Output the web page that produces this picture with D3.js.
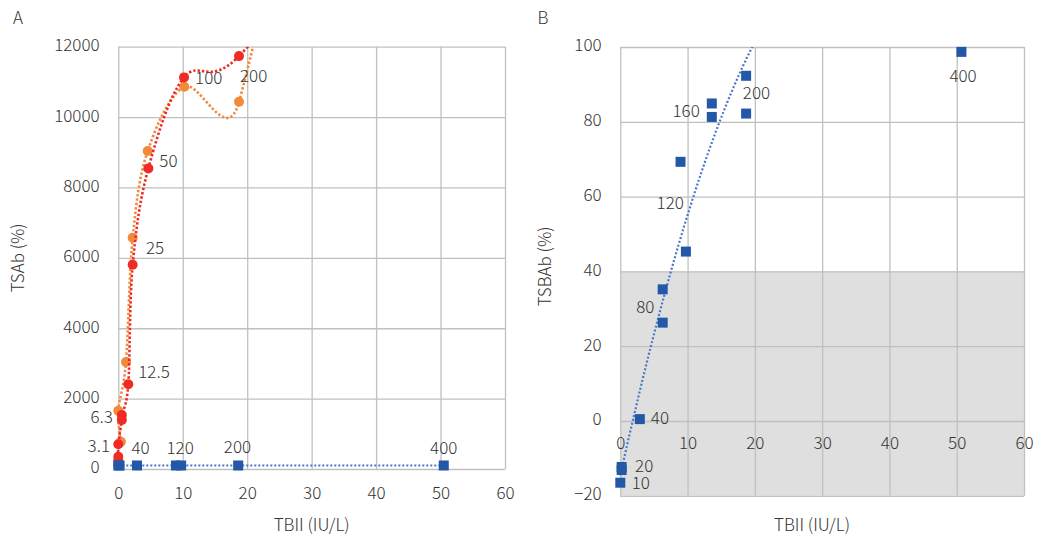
<!DOCTYPE html>
<html><head><meta charset="utf-8">
<script src="https://cdn.jsdelivr.net/npm/d3@7"></script>
<style>
body{margin:0;background:#fff}
text{font-family:"Noto Sans CJK JP","Noto Sans",sans-serif;fill:#333;font-weight:300}
</style>
</head><body>
<svg id="c" width="1038" height="541"></svg>
<script>
// ---------------- data ----------------
// Panel A : TSAb (%) vs TBII (IU/L)
const redTbii    = [0, 0, 0, 0, 0.55, 0.55, 1.55, 2.23, 4.66, 10.2, 18.73, 50.7];
const redTsab    = [105, 236, 350, 701, 1392, 1534, 2406, 5804, 8542, 11128, 11733, 18700];
const orangeTbii = [0.4, 0, 1.19, 2.23, 4.56, 10.24, 18.73, 50.7];
const orangeTsab = [775, 1656, 3040, 6571, 9034, 10861, 10435, 37800];
const blueTbiiA  = [0, 0.2, 2.9, 8.95, 9.75, 18.6, 50.5];
const blueValA   = [100, 100, 100, 100, 100, 100, 100];
const xTicksA = [0, 10, 20, 30, 40, 50, 60];
const yTicksA = [0, 2000, 4000, 6000, 8000, 10000, 12000];
const labelTextA   = ["3.1", "6.3", "12.5", "25", "50", "100", "200", "40", "120", "200", "400"];
const labelSeriesA = ["red", "red", "orange", "orange", "red", "red", "red", "blue", "blue", "blue", "blue"];
const labelIndexA  = [3, 5, 2, 3, 8, 9, 10, 2, 4, 5, 6];

// Panel B : TSBAb (%) vs TBII (IU/L)
const tbiiB  = [0.0, 0.2, 0.2, 2.9, 6.3, 6.3, 8.95, 9.75, 13.6, 13.6, 18.7, 18.7, 50.7];
const tsbabB = [-16.5, -12.3, -13.1, 0.5, 35.2, 26.3, 69.3, 45.3, 84.9, 81.3, 92.3, 82.2, 98.7];
const xTicksB = [0, 10, 20, 30, 40, 50, 60];
const yTicksB = [-20, 0, 20, 40, 60, 80, 100];
const shadedBandB = [-20, 40];
const labelTextB  = ["10", "20", "40", "80", "120", "160", "200", "400"];
const labelIndexB = [0, 1, 3, 5, 7, 9, 10, 12];

// ---------------- styles / layout ----------------
const labelOffsetA = [[-8.3,1.7,"end"],[-9,1.7,"end"],[12.3,9.7,"start"],[13.3,10,"start"],[11,-7.4,"start"],
  [11,1,"start"],[1,20,"start"],[3.5,-17,"middle"],[-1,-17,"middle"],[-0.7,-18,"middle"],[0,-17,"middle"]];
const labelOffsetB = [[11.4,0.5,"start"],[13.4,-0.5,"start"],[11,-0.8,"start"],[-8.3,-16,"end"],[-2,-49,"end"],
  [-12,-6.3,"end"],[-3.3,17.5,"start"],[1.6,23.8,"middle"]];

const C = {red:"#ee2b24", orange:"#f28a3c", blue:"#2358a8", blueLine:"#4a78c6", grid:"#c0c0c0", text:"#333", band:"#e0dfdf"};
const FS = 17;

const svg = d3.select("#c");

// scales
const xA = d3.scaleLinear().domain([0, 60]).range([118.3, 505]);
const yA = d3.scaleLinear().domain([0, 12000]).range([469, 46.7]);
const xB = d3.scaleLinear().domain([0, 60]).range([620.3, 1024]);
const yB = d3.scaleLinear().domain([-20, 100]).range([495.8, 47]);

// Excel-like smoothing (Bezier, handles = neighbour chord / 6, capped)
function smoothPath(pts, cap) {
  const p = d3.path();
  const n = pts.length;
  p.moveTo(pts[0][0], pts[0][1]);
  for (let i = 0; i < n - 1; i++) {
    const p0 = pts[Math.max(i - 1, 0)], p1 = pts[i], p2 = pts[i + 1], p3 = pts[Math.min(i + 2, n - 1)];
    const seg = Math.hypot(p2[0] - p1[0], p2[1] - p1[1]);
    let t1 = [(p2[0] - p0[0]) / 6, (p2[1] - p0[1]) / 6];
    let t2 = [(p3[0] - p1[0]) / 6, (p3[1] - p1[1]) / 6];
    const l1 = Math.hypot(t1[0], t1[1]), l2 = Math.hypot(t2[0], t2[1]);
    if (l1 > cap * seg && l1 > 0) t1 = t1.map(v => v * cap * seg / l1);
    if (l2 > cap * seg && l2 > 0) t2 = t2.map(v => v * cap * seg / l2);
    p.bezierCurveTo(p1[0] + t1[0], p1[1] + t1[1], p2[0] - t2[0], p2[1] - t2[1], p2[0], p2[1]);
  }
  return p.toString();
}

function makeClip(x, y, clipId) {
  const [x0, x1] = x.range(), [y0, y1] = y.range();
  svg.append("clipPath").attr("id", clipId).append("rect")
    .attr("x", x0 - 2).attr("y", y1).attr("width", x1 - x0 + 2).attr("height", y0 - y1 + 2);
  return svg.append("g");
}

function gridlines(g, x, y, xt, yt) {
  const [x0, x1] = x.range(), [y0, y1] = y.range();
  g.append("g").call(d3.axisLeft(y).tickValues(yt).tickSize(-(x1 - x0)).tickFormat(""))
    .attr("transform", `translate(${x0},0)`)
    .call(s => { s.select(".domain").remove(); s.selectAll("line").attr("stroke", C.grid).attr("stroke-width", 1.3); });
  g.append("g").call(d3.axisBottom(x).tickValues(xt).tickSize(-(y0 - y1)).tickFormat(""))
    .attr("transform", `translate(0,${y0})`)
    .call(s => { s.select(".domain").remove(); s.selectAll("line").attr("stroke", C.grid).attr("stroke-width", 1.3); });
}

function tickLabels(g, x, y, xt, yt, xAxisAt, xLabelOffset) {
  const [x0] = x.range();
  g.append("g").attr("transform", `translate(${x0},0)`)
    .call(d3.axisLeft(y).tickValues(yt).tickFormat(d3.format("d")).tickSize(0).tickPadding(18.7))
    .call(s => { s.select(".domain").remove(); s.selectAll("text").attr("font-size", FS).attr("font-family", null).attr("fill", C.text).attr("dy", "0.32em").attr("y", -1.5); });
  g.append("g").attr("transform", `translate(0,${y(xAxisAt)})`)
    .call(d3.axisBottom(x).tickValues(xt).tickFormat(d3.format("d")).tickSize(0))
    .call(s => { s.select(".domain").remove(); s.selectAll("text").attr("font-size", FS).attr("font-family", null).attr("fill", C.text).attr("y", xLabelOffset).attr("dy", "0.35em"); });
}

// ================= Panel A =================
const gA = makeClip(xA, yA, "clipA");
gridlines(gA, xA, yA, xTicksA, yTicksA);

const redPts = redTbii.map((v, i) => [xA(v), yA(redTsab[i])]);
const orangePts = orangeTbii.map((v, i) => [xA(v), yA(orangeTsab[i])]);
const bluePtsA = blueTbiiA.map((v, i) => [xA(v), yA(blueValA[i])]);

// orange series
gA.append("path").attr("d", smoothPath(orangePts, 0.85)).attr("clip-path", "url(#clipA)")
  .attr("fill", "none").attr("stroke", C.orange).attr("stroke-width", 2.6).attr("stroke-dasharray", "2.4,2");
gA.append("g").selectAll("circle").data(orangePts.filter(p => p[1] >= yA.range()[1])).join("circle")
  .attr("cx", d => d[0]).attr("cy", d => d[1]).attr("r", 5).attr("fill", C.orange);
// red series
gA.append("path").attr("d", smoothPath(redPts, 0.75)).attr("clip-path", "url(#clipA)")
  .attr("fill", "none").attr("stroke", C.red).attr("stroke-width", 2.6).attr("stroke-dasharray", "2.4,2");
gA.append("g").selectAll("circle").data(redPts.filter(p => p[1] >= yA.range()[1])).join("circle")
  .attr("cx", d => d[0]).attr("cy", d => d[1]).attr("r", 5).attr("fill", C.red);
// blue series
gA.append("path").attr("d", d3.line()(bluePtsA)).attr("fill", "none")
  .attr("stroke", C.blueLine).attr("stroke-width", 2.2).attr("stroke-dasharray", "2,2");
gA.append("g").selectAll("rect").data(bluePtsA).join("rect")
  .attr("x", d => d[0] - 5).attr("y", d => d[1] - 5).attr("width", 10).attr("height", 10).attr("fill", C.blue);

tickLabels(gA, xA, yA, xTicksA, yTicksA, 0, 24);

// data labels A
const seriesPtsA = {red: redPts, orange: orangePts, blue: bluePtsA};
labelTextA.forEach((t, i) => {
  const p = seriesPtsA[labelSeriesA[i]][labelIndexA[i]];
  const o = labelOffsetA[i];
  gA.append("text").attr("x", p[0] + o[0]).attr("y", p[1] + o[1]).attr("dy", "0.35em")
    .attr("text-anchor", o[2]).attr("font-size", FS).text(t);
});

// titles A
svg.append("text").attr("x", 18).attr("y", 18).attr("dy", "0.35em").attr("text-anchor", "middle").attr("font-size", FS).text("A");
svg.append("text").attr("x", d3.mean(xA.range())).attr("y", 525).attr("dy", "0.35em").attr("text-anchor", "middle").attr("font-size", FS).text("TBII (IU/L)");
svg.append("text").attr("transform", `translate(18,${d3.mean(yA.range())}) rotate(-90)`).attr("dy", "0.35em").attr("text-anchor", "middle").attr("font-size", FS).text("TSAb (%)");

// ================= Panel B =================
const gB = makeClip(xB, yB, "clipB");
gB.append("rect").attr("x", xB.range()[0]).attr("width", xB.range()[1] - xB.range()[0])
  .attr("y", yB(shadedBandB[1])).attr("height", yB(shadedBandB[0]) - yB(shadedBandB[1])).attr("fill", C.band);
gridlines(gB, xB, yB, xTicksB, yTicksB);

// quadratic least-squares trendline (Excel "polynomial, order 2") over all TSBAb points
function quadFit(xs, ys) {
  const S = k => d3.sum(xs, x => Math.pow(x, k));
  const T = k => d3.sum(xs, (x, i) => Math.pow(x, k) * ys[i]);
  const M = [[S(0), S(1), S(2), T(0)], [S(1), S(2), S(3), T(1)], [S(2), S(3), S(4), T(2)]];
  for (let c = 0; c < 3; c++) {
    for (let r = c + 1; r < 3; r++) {
      const f = M[r][c] / M[c][c];
      for (let k = c; k < 4; k++) M[r][k] -= f * M[c][k];
    }
  }
  const s = [0, 0, 0];
  for (let r = 2; r >= 0; r--) {
    let v = M[r][3];
    for (let k = r + 1; k < 3; k++) v -= M[r][k] * s[k];
    s[r] = v / M[r][r];
  }
  return s;
}
const coef = quadFit(tbiiB, tsbabB);
const fx = d3.range(0, 301).map(i => d3.min(tbiiB) + (d3.max(tbiiB) - d3.min(tbiiB)) * i / 300);
const trend = fx.map(x => [xB(x), yB(coef[0] + coef[1] * x + coef[2] * x * x)]);
gB.append("path").attr("d", d3.line()(trend)).attr("clip-path", "url(#clipB)")
  .attr("fill", "none").attr("stroke", C.blueLine).attr("stroke-width", 2.2).attr("stroke-dasharray", "2,2");

const ptsB = tbiiB.map((v, i) => [xB(v), yB(tsbabB[i])]);
gB.append("g").selectAll("rect").data(ptsB).join("rect")
  .attr("x", d => d[0] - 5).attr("y", d => d[1] - 5).attr("width", 10).attr("height", 10).attr("fill", C.blue);

tickLabels(gB, xB, yB, xTicksB, yTicksB, 0, 22.5);

labelTextB.forEach((t, i) => {
  const p = ptsB[labelIndexB[i]];
  const o = labelOffsetB[i];
  gB.append("text").attr("x", p[0] + o[0]).attr("y", p[1] + o[1]).attr("dy", "0.35em")
    .attr("text-anchor", o[2]).attr("font-size", FS).text(t);
});

svg.append("text").attr("x", 543).attr("y", 18).attr("dy", "0.35em").attr("text-anchor", "middle").attr("font-size", FS).text("B");
svg.append("text").attr("x", 812).attr("y", 525).attr("dy", "0.35em").attr("text-anchor", "middle").attr("font-size", FS).text("TBII (IU/L)");
svg.append("text").attr("transform", `translate(545,${d3.mean(yB.range()) - 5}) rotate(-90)`).attr("dy", "0.35em").attr("text-anchor", "middle").attr("font-size", FS).text("TSBAb (%)");
</script>
</body></html>
